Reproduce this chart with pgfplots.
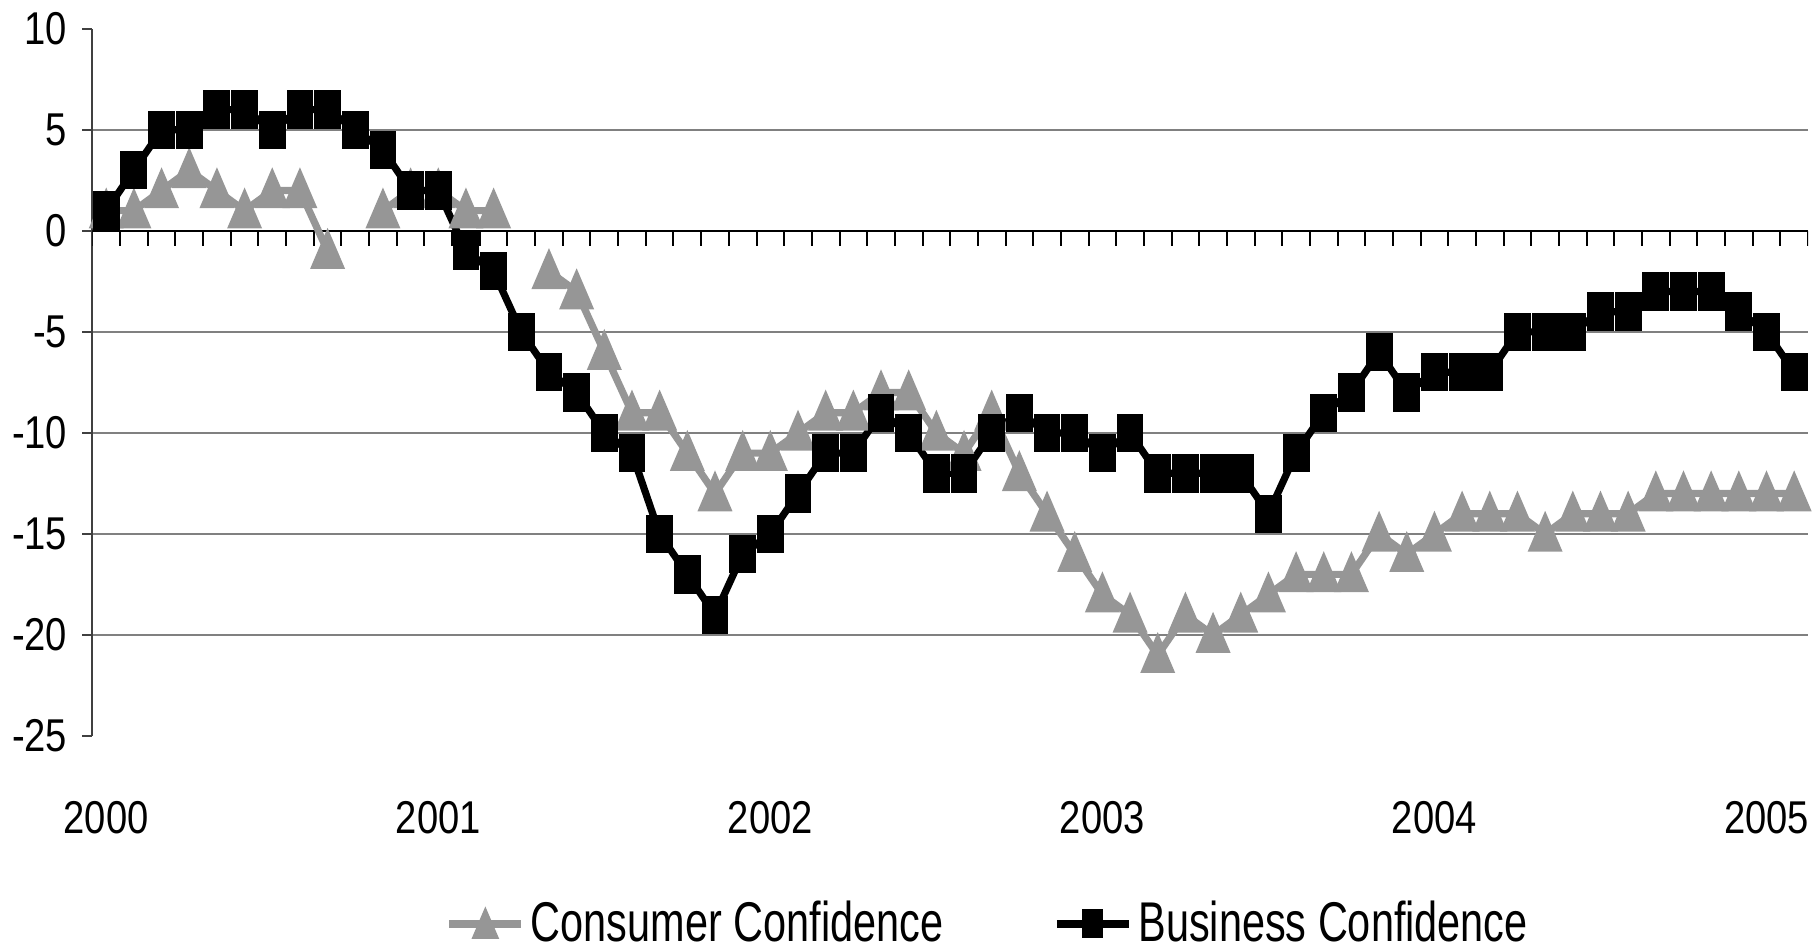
\documentclass[border=0pt]{standalone}
\usepackage{fontspec}
\setmainfont{Liberation Sans}[FakeStretch=0.83]
\newfontfamily\legendfont{Liberation Sans}[FakeStretch=0.74]
\usepackage{pgfplots}
\pgfplotsset{compat=1.18}
\usepackage{pgfplotstable}

\definecolor{consumer}{RGB}{150,150,150}
\definecolor{gridgray}{RGB}{128,128,128}

% Monthly confidence indicators, Jan 2000 (idx 0) to Feb 2005 (idx 61)
\pgfplotstableread{
idx consumer business
0 1 1
1 1 3
2 2 5
3 3 5
4 2 6
5 1 6
6 2 5
7 2 6
8 -1 6
9 nan 5
10 1 4
11 2 2
12 2 2
13 1 -1
14 1 -2
15 nan -5
16 -2 -7
17 -3 -8
18 -6 -10
19 -9 -11
20 -9 -15
21 -11 -17
22 -13 -19
23 -11 -16
24 -11 -15
25 -10 -13
26 -9 -11
27 -9 -11
28 -8 -9
29 -8 -10
30 -10 -12
31 -11 -12
32 -9 -10
33 -12 -9
34 -14 -10
35 -16 -10
36 -18 -11
37 -19 -10
38 -21 -12
39 -19 -12
40 -20 -12
41 -19 -12
42 -18 -14
43 -17 -11
44 -17 -9
45 -17 -8
46 -15 -6
47 -16 -8
48 -15 -7
49 -14 -7
50 -14 -7
51 -14 -5
52 -15 -5
53 -14 -5
54 -14 -4
55 -14 -4
56 -13 -3
57 -13 -3
58 -13 -3
59 -13 -4
60 -13 -5
61 -13 -7
}\confidence

\begin{document}
\begin{tikzpicture}
\path[use as bounding box] (-23.1pt,-54pt) rectangle (429.9pt,184pt);
\begin{axis}[
  at={(0pt,0pt)}, anchor=south west,
  width=428.9pt, height=176.8pt, scale only axis,
  xmin=-0.5, xmax=61.5, ymin=-25, ymax=10,
  axis lines*=left, axis line style={-},
  x axis line style={draw=none},
  y axis line style={draw=black!75, line width=0.5pt},
  xtick={0,12,...,60},
  xticklabels={2000,2001,2002,2003,2004,2005},
  xtick style={draw=none},
  xticklabel style={anchor=center, yshift=-17.8pt, font=\fontsize{11.5}{13}\selectfont},
  ytick={-20,-15,-10,-5,0,5},
  yticklabels={-20,-15,-10,-5,0,5},
  extra y ticks={-25,10},
  extra y tick labels={-25,10},
  extra y tick style={grid=none},
  ymajorgrids,
  major grid style={gridgray, line width=0.5pt},
  tick align=outside,
  major tick length=2.5pt,
  ytick style={black!75, line width=0.5pt},
  yticklabel style={anchor=east, inner sep=0pt, xshift=-3.6pt, font=\fontsize{11.5}{13}\selectfont},
  legend columns=2,
  legend style={at={(0.2055,-0.2658)}, anchor=west, draw=none, fill=none,
    inner sep=0pt, font=\legendfont\fontsize{14}{16}\selectfont,
    /tikz/every even column/.append style={column sep=26pt},
    nodes={inner xsep=1.5pt, inner ysep=0pt}},
  legend image code/.code={
    \draw[mark repeat=2, mark phase=2, #1, every mark/.append style={scale=0.7}]
      plot coordinates {(0pt,0pt) (9pt,0pt) (18pt,0pt)};},
  unbounded coords=jump,
]
% category axis at zero with a tick between months
\draw[black, line width=0.5pt] (axis cs:-0.5,0) -- (axis cs:61.5,0);
\pgfplotsinvokeforeach{-0.5,0.5,...,61.5}{
  \draw[black, line width=0.5pt] (axis cs:#1,0) -- ++(0pt,-3.9pt);
}
\addplot[consumer, line width=1.8pt, mark=triangle*, mark size=4.7pt,
  mark options={solid, draw=none, fill=consumer, xscale=0.74, yshift=-1.2pt}]
  table[x=idx, y=consumer] {\confidence};
\addlegendentry{Consumer Confidence}
\addplot[black, line width=1.8pt, mark=square*, mark size=3.9pt,
  mark options={solid, draw=none, fill=black, xscale=0.63}]
  table[x=idx, y=business] {\confidence};
\addlegendentry{Business Confidence}
\end{axis}
\end{tikzpicture}
\end{document}
